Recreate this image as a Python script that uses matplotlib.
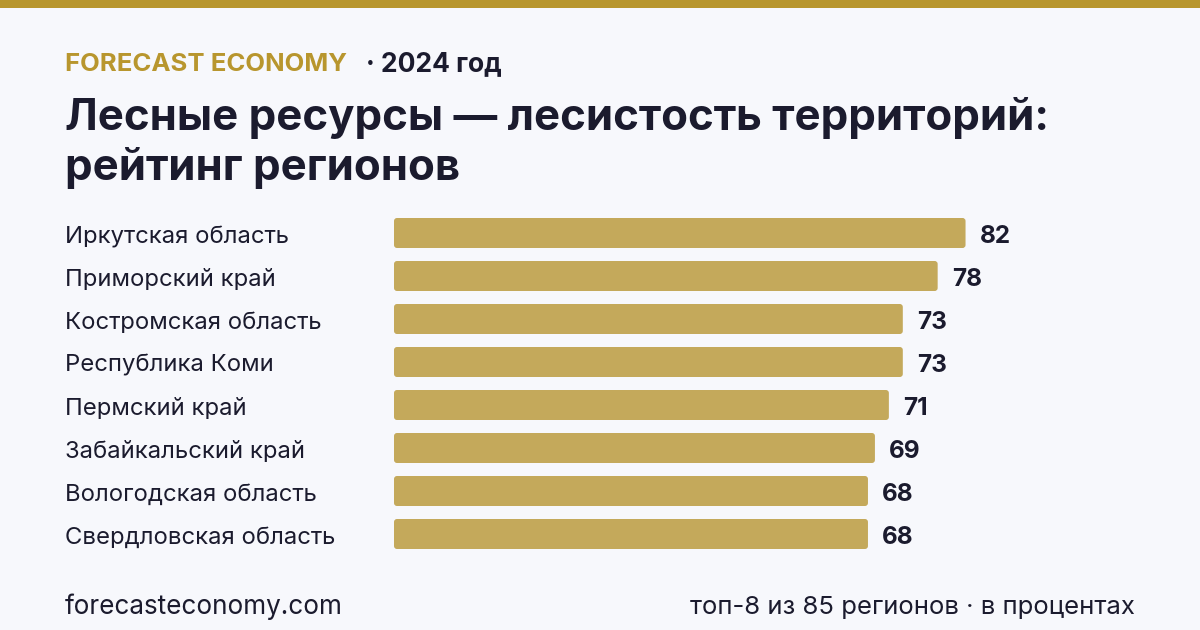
import matplotlib
matplotlib.use("Agg")
import matplotlib.pyplot as plt
from matplotlib.patches import FancyBboxPatch, Rectangle

regions = ["Иркутская область", "Приморский край", "Костромская область",
           "Республика Коми", "Пермский край", "Забайкальский край",
           "Вологодская область", "Свердловская область"]
values = [82, 78, 73, 73, 71, 69, 68, 68]

BG = "#f7f8fc"
GOLD = "#b8962e"
BAR = "#c4a95b"
INK = "#1b1b2e"
W, H = 1200, 630

plt.rcParams["font.family"] = ["Inter", "DejaVu Sans"]

fig = plt.figure(figsize=(W / 100, H / 100), dpi=100, facecolor=BG)


def px(x, y):
    return x / W, 1 - y / H


# top stripe
fig.patches.append(Rectangle((0, 1 - 8 / H), 1, 8 / H, transform=fig.transFigure,
                             facecolor=GOLD, edgecolor="none"))

fig.text(*px(65, 71), "FORECAST ECONOMY", color=GOLD, fontsize=18.5,
         fontweight="bold", va="baseline")
fig.text(*px(366, 71), "· 2024 год", color=INK, fontsize=19,
         fontweight="bold", va="baseline")
fig.text(*px(65, 130), "Лесные ресурсы — лесистость территорий:", color=INK,
         fontsize=31.5, fontweight="bold", va="baseline")
fig.text(*px(65, 180), "рейтинг регионов", color=INK,
         fontsize=31.5, fontweight="bold", va="baseline")

fig.text(*px(65, 614), "forecasteconomy.com", color=INK, fontsize=18.8,
         va="baseline")
fig.text(*px(1135, 614), "топ-8 из 85 регионов · в процентах", color=INK,
         fontsize=18.5, va="baseline", ha="right")

# bars axes: x 394..1091 px = 0..100, rows every 43 px starting at 233
row = 43
top = 233 - row / 2
xw = 697
ax = fig.add_axes([394 / W, 1 - (top + row * 8) / H, xw / W, row * 8 / H])
ax.set_xlim(0, 100)
ax.set_ylim(len(values) - 0.5, -0.5)
ax.axis("off")
ax.patch.set_alpha(0)

bh = 30 / row
r_x = 3 / (xw / 100)
aspect = (3 / row) / r_x
for i, (name, v) in enumerate(zip(regions, values)):
    ax.add_patch(FancyBboxPatch((0, i - bh / 2), v, bh,
                                boxstyle=f"round,pad=0,rounding_size={r_x}",
                                mutation_aspect=aspect,
                                facecolor=BAR, edgecolor="none"))
    ax.text(v + 14 / (xw / 100), i + 10 / row, f"{v}", color=INK, fontsize=17.5,
            fontweight="bold", va="baseline", ha="left")
    ax.text((65 - 394) / xw, i + 10 / row, name, color=INK, fontsize=17.2,
            va="baseline", ha="left", transform=ax.get_yaxis_transform())

fig.savefig("out.png", dpi=100, facecolor=BG)
